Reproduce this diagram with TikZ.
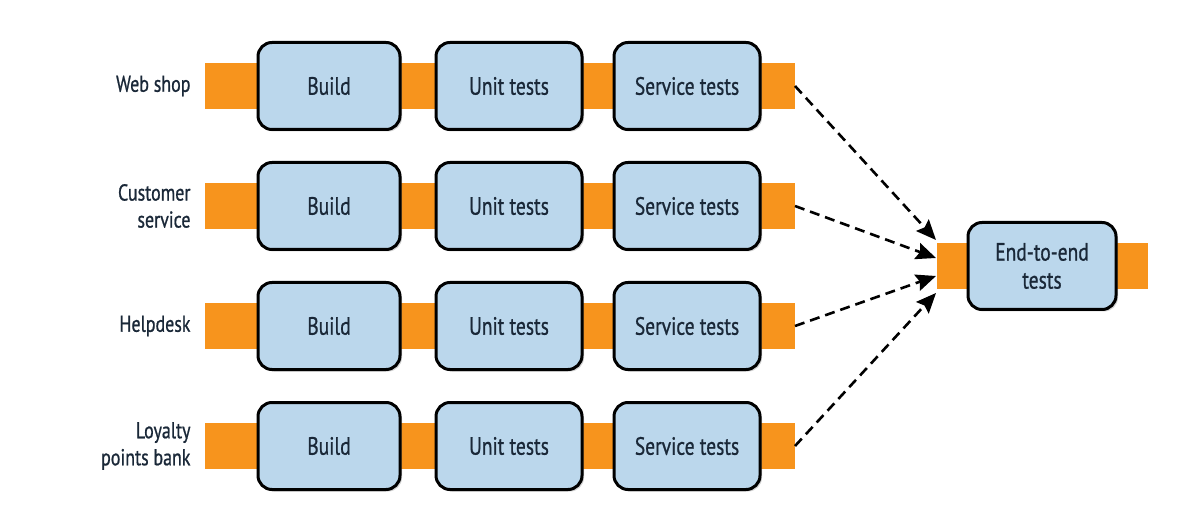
\documentclass[tikz,border=0pt]{standalone}
\usepackage{fontspec}
\setmainfont[FakeStretch=0.78,FakeBold=0.8]{PT Sans}
\usetikzlibrary{arrows.meta,shadows}
\definecolor{barorange}{HTML}{F7941D}
\definecolor{boxblue}{HTML}{BBD7EC}
\definecolor{inkblue}{HTML}{1A2838}
\tikzset{
  stage/.style={draw=black, line width=3pt, fill=boxblue, rounded corners=14pt,
    minimum width=142pt, minimum height=87pt, text=inkblue, font=\fontsize{25}{28}\selectfont,
    align=center, drop shadow={shadow xshift=2pt, shadow yshift=-2pt, opacity=0.35}},
  rowlabel/.style={anchor=east, align=right, text=inkblue, font=\fontsize{23}{27}\selectfont},
  feed/.style={dashed, dash pattern=on 10pt off 6pt, line width=2.6pt, -{Stealth[length=20pt,width=17pt,inset=3pt]}}
}
\begin{document}
\begin{tikzpicture}[x=1pt,y=-1pt]
\useasboundingbox (0,0) rectangle (1180,526);
\fill[white] (0,0) rectangle (1180,526);
% end-to-end
\fill[barorange] (937,243) rectangle (1148,289);
\node[stage, minimum width=148pt] (e2e) at (1042,266) {End-to-end\\tests};
\coordinate (t1) at (936,240);
\coordinate (t2) at (936,258);
\coordinate (t3) at (936,276);
\coordinate (t4) at (936,293);
\foreach \i/\y/\lab in {1/86/{Web shop},2/206/{Customer\\service},3/326/{Helpdesk},4/446/{Loyalty\\points bank}} {
  \fill[barorange] (205,\y-23) rectangle (795,\y+23);
  \node[stage] (b\i) at (329,\y) {Build};
  \node[stage, minimum width=146pt] (u\i) at (509,\y) {Unit tests};
  \node[stage, minimum width=146pt] (s\i) at (687,\y) {Service tests};
  \node[rowlabel] (l\i) at (194,\y) {\lab};
  \coordinate (o\i) at (795,\y);
}
\draw[feed] (o1) -- (t1);
\draw[feed] (o2) -- (t2);
\draw[feed] (o3) -- (t3);
\draw[feed] (o4) -- (t4);
\end{tikzpicture}
\end{document}
